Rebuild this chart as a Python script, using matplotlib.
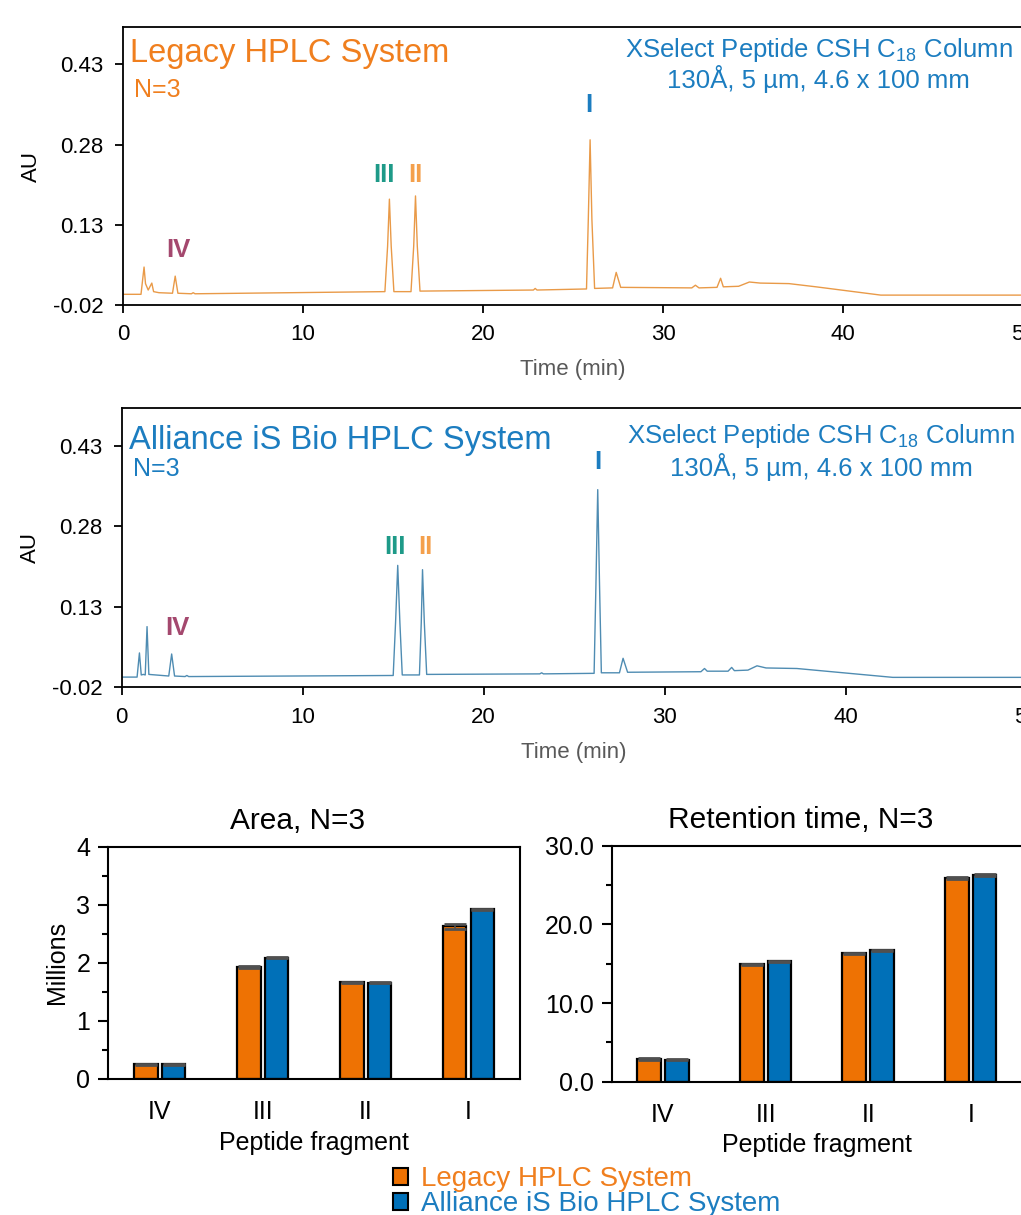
import numpy as np
import matplotlib
matplotlib.use('Agg')
import matplotlib.pyplot as plt
from matplotlib.patches import Patch

plt.rcParams['font.family'] = ['Liberation Sans', 'DejaVu Sans']
plt.rcParams['mathtext.fontset'] = 'custom'
plt.rcParams['mathtext.rm'] = 'Liberation Sans'
plt.rcParams['mathtext.it'] = 'Liberation Sans:italic'

# chromatogram traces (time in min, absorbance in AU)
legacy_time = [0.0, 1.0, 1.1, 1.17, 1.25, 1.4, 1.6, 1.7, 2.0, 2.75, 2.9, 3.05, 3.8, 3.9, 4.0,
               14.55, 14.7, 14.8, 14.9, 15.05, 16.0, 16.15, 16.25, 16.35, 16.5,
               22.8, 22.9, 23.0, 25.75, 25.85, 25.95, 26.05, 26.2, 27.2, 27.4, 27.65,
               31.6, 31.8, 32.0, 33.0, 33.2, 33.35, 34.2, 34.8, 35.4, 37.0, 38.5, 42.1, 50.0]
legacy_au = [0.0, 0.0, 0.03, 0.051, 0.02, 0.008, 0.021, 0.005, 0.003, 0.002, 0.034, 0.002, 0.001, 0.003, 0.001,
             0.005, 0.09, 0.178, 0.09, 0.005, 0.005, 0.09, 0.184, 0.09, 0.006,
             0.008, 0.011, 0.008, 0.010, 0.14, 0.289, 0.14, 0.011, 0.012, 0.041, 0.013,
             0.012, 0.017, 0.012, 0.013, 0.030, 0.014, 0.015, 0.023, 0.021, 0.020, 0.014, -0.0015, -0.0015]

alliance_time = [0.0, 0.85, 0.98, 1.08, 1.2, 1.3, 1.4, 1.5, 2.6, 2.76, 2.92, 3.5, 3.6, 3.7,
                 15.0, 15.13, 15.25, 15.37, 15.5, 16.45, 16.55, 16.62, 16.72, 16.85,
                 23.1, 23.2, 23.3, 26.1, 26.2, 26.3, 26.4, 26.5, 27.5, 27.7, 27.95,
                 32.0, 32.2, 32.35, 33.5, 33.7, 33.85, 34.6, 35.1, 35.6, 37.3, 42.6, 50.0]
alliance_au = [-0.001, -0.001, 0.044, 0.003, 0.004, 0.003, 0.093, 0.004, 0.001, 0.042, 0.001, 0.0, 0.002, 0.0,
               0.002, 0.10, 0.207, 0.10, 0.003, 0.003, 0.10, 0.199, 0.10, 0.004,
               0.005, 0.007, 0.005, 0.006, 0.17, 0.348, 0.17, 0.007, 0.007, 0.034, 0.008,
               0.009, 0.015, 0.010, 0.010, 0.017, 0.011, 0.012, 0.020, 0.016, 0.015, -0.0015, -0.0015]

# peak labels
peak_names = ['I', 'II', 'III', 'IV']
legacy_label_time = [25.9, 16.25, 14.5, 3.1]
legacy_label_au = [0.355, 0.223, 0.223, 0.083]
alliance_label_time = [26.3, 16.75, 15.1, 3.1]
alliance_label_au = [0.40, 0.241, 0.241, 0.091]
peak_colors = ['#1C7DC0', '#F4A04C', '#1E9A88', '#A4486E']

# bar chart data
fragments = ['IV', 'III', 'II', 'I']
area_legacy = [0.25, 1.93, 1.665, 2.63]
area_alliance = [0.25, 2.09, 1.655, 2.92]
area_legacy_err = [0.01, 0.015, 0.01, 0.04]
area_alliance_err = [0.01, 0.01, 0.01, 0.01]
rt_legacy = [2.9, 14.9, 16.3, 25.9]
rt_alliance = [2.8, 15.3, 16.7, 26.3]
rt_legacy_err = [0.1, 0.1, 0.1, 0.1]
rt_alliance_err = [0.1, 0.1, 0.1, 0.1]

ORANGE_TXT = '#F07F1E'
BLUE_TXT = '#1C7DC0'
ORANGE_BAR = '#EE7203'
BLUE_BAR = '#0070B8'

W, H = 1021, 1215
fig = plt.figure(figsize=(W / 100, H / 100), dpi=100)


def px_axes(left, top, right, bottom):
    return fig.add_axes([left / W, 1 - bottom / H, (right - left) / W, (bottom - top) / H])


def chromatogram(ax, t, au, color, title, title_color, lab_t, lab_au, ty):
    # ty: vertical spots (axes fraction) of title, N=3, column line 1, column line 2
    ax.plot(t, au, color=color, lw=1.0)
    ax.set_xlim(0, 50)
    ax.set_ylim(-0.02, 0.50)
    ax.set_xticks([0, 10, 20, 30, 40, 50])
    ax.set_yticks([-0.02, 0.13, 0.28, 0.43])
    ax.set_yticklabels(['-0.02', '0.13', '0.28', '0.43'])
    ax.tick_params(direction='out', length=6, width=1.3, labelsize=16, pad=8)
    for s in ax.spines.values():
        s.set_linewidth(1.3)
    ax.set_xlabel('Time (min)', fontsize=16, color='#595959', labelpad=10)
    ax.set_ylabel('AU', fontsize=16, labelpad=8)
    ax.text(0.008, ty[0], title, transform=ax.transAxes, fontsize=23.5,
            color=title_color, va='top', ha='left')
    ax.text(0.012, ty[1], 'N=3', transform=ax.transAxes, fontsize=18,
            color=title_color, va='top', ha='left')
    ax.text(0.773, ty[2], 'XSelect Peptide CSH C$_{18}$ Column', transform=ax.transAxes,
            fontsize=18.5, color=BLUE_TXT, va='top', ha='center')
    ax.text(0.773, ty[3], '130Å, 5 µm, 4.6 x 100 mm', transform=ax.transAxes,
            fontsize=18.5, color=BLUE_TXT, va='top', ha='center')
    for name, x, y, c in zip(peak_names, lab_t, lab_au, peak_colors):
        ax.text(x, y, name, fontsize=18.5, fontweight='bold', color=c, ha='center', va='center')


ax1 = px_axes(123, 27, 1023, 305)
chromatogram(ax1, legacy_time, legacy_au, '#E99A48', 'Legacy HPLC System', ORANGE_TXT,
             legacy_label_time, legacy_label_au, (0.96, 0.818, 0.968, 0.863))

ax2 = px_axes(121.7, 408, 1026.7, 687.3)
chromatogram(ax2, alliance_time, alliance_au, '#4F8CB2', 'Alliance iS Bio HPLC System', BLUE_TXT,
             alliance_label_time, alliance_label_au, (0.9385, 0.825, 0.95, 0.838))


def bars(ax, a, b, ea, eb, title, ylim, major, minor, fmt):
    x = np.arange(len(fragments))
    w = 0.23
    ax.bar(x - 0.135, a, w, color=ORANGE_BAR, edgecolor='black', lw=1.6,
           yerr=ea, error_kw=dict(ecolor='#505050', capsize=8, elinewidth=1.2, capthick=2))
    ax.bar(x + 0.135, b, w, color=BLUE_BAR, edgecolor='black', lw=1.6,
           yerr=eb, error_kw=dict(ecolor='#505050', capsize=8, elinewidth=1.2, capthick=2))
    ax.set_xlim(-0.5, 3.5)
    ax.set_ylim(*ylim)
    ax.set_xticks(x)
    ax.set_xticklabels(fragments)
    ax.set_yticks(major)
    ax.set_yticks(minor, minor=True)
    ax.set_yticklabels([fmt.format(v) for v in major])
    ax.tick_params(axis='x', length=0, labelsize=18, pad=15)
    ax.tick_params(axis='y', direction='out', length=7, width=1.5, labelsize=18, pad=6)
    ax.tick_params(axis='y', which='minor', direction='out', length=4, width=1.5)
    for s in ax.spines.values():
        s.set_linewidth(1.5)
    ax.set_xlabel('Peptide fragment', fontsize=18, labelpad=5)
    ax.set_title(title, fontsize=21.5, pad=13, x=0.46)


ax3 = px_axes(108.3, 846.7, 520, 1079)
bars(ax3, area_legacy, area_alliance, area_legacy_err, area_alliance_err,
     'Area, N=3', (0, 4), [0, 1, 2, 3, 4], [0.5, 1.5, 2.5, 3.5], '{:.0f}')
ax3.set_ylabel('Millions', fontsize=18, labelpad=5)

ax4 = px_axes(611.7, 845.7, 1022, 1081.7)
bars(ax4, rt_legacy, rt_alliance, rt_legacy_err, rt_alliance_err,
     'Retention time, N=3', (0, 30), [0, 10, 20, 30], [5, 15, 25], '{:.1f}')

handles = [Patch(facecolor=ORANGE_BAR, edgecolor='black', lw=1.5),
           Patch(facecolor=BLUE_BAR, edgecolor='black', lw=1.5)]
fig.legend(handles, ['Legacy HPLC System', 'Alliance iS Bio HPLC System'],
           loc='upper left', bbox_to_anchor=(393 / W, 1 - 1166 / H), frameon=False,
           fontsize=20, labelcolor=[ORANGE_TXT, BLUE_TXT], handlelength=0.55,
           handleheight=0.55, handletextpad=0.45, labelspacing=-0.02, borderpad=0,
           borderaxespad=0)

fig.savefig('out.png', dpi=100)
